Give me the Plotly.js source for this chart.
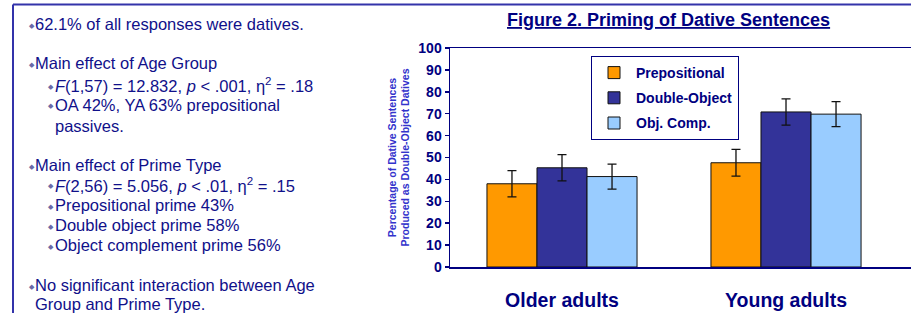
<!DOCTYPE html>
<html><head><meta charset="utf-8">
<script src="https://cdn.plot.ly/plotly-3.0.1.min.js"></script>
<style>html,body{margin:0;padding:0;background:#fff;}#chart{width:911px;height:313px;}</style>
</head><body><div id="chart"></div>
<script>
// ---- data ----
const groups = ["Older adults", "Young adults"];
const seriesNames = ["Prepositional", "Double-Object", "Obj. Comp."];
const prepositional = [38.0, 47.6];
const doubleObject = [45.3, 70.8];
const objComp = [41.3, 69.8];
const prepositionalErr = [6.0, 6.1];
const doubleObjectErr = [6.0, 6.0];
const objCompErr = [5.7, 5.7];
const yTicks = [0, 10, 20, 30, 40, 50, 60, 70, 80, 90, 100];

const noteLines = [
  {lvl: 0, bullet: true,  text: "62.1% of all responses were datives.", y: 24},
  {lvl: 0, bullet: true,  text: "Main effect of Age Group", y: 63},
  {lvl: 1, bullet: true,  text: "<i>F</i>(1,57) = 12.832, <i>p</i> &lt; .001, η<sup>2</sup> = .18", y: 85},
  {lvl: 1, bullet: true,  text: "OA 42%, YA 63% prepositional", y: 105},
  {lvl: 1, bullet: false, text: "passives.", y: 126},
  {lvl: 0, bullet: true,  text: "Main effect of Prime Type", y: 165},
  {lvl: 1, bullet: true,  text: "<i>F</i>(2,56) = 5.056, <i>p</i> &lt; .01, η<sup>2</sup> = .15", y: 185},
  {lvl: 1, bullet: true,  text: "Prepositional prime 43%", y: 205},
  {lvl: 1, bullet: true,  text: "Double object prime 58%", y: 225},
  {lvl: 1, bullet: true,  text: "Object complement prime 56%", y: 245},
  {lvl: 0, bullet: true,  text: "No significant interaction between Age", y: 285},
  {lvl: 0, bullet: false, text: "Group and Prime Type.", y: 304}
];

// ---- styling ----
const W = 911, H = 313;
const NAVY = "#000080";
const TXT = "#10108a";
const FONT = "Arial, Liberation Sans, sans-serif";
const colors = ["#FF9900", "#333399", "#99CCFF"];
const values = [prepositional, doubleObject, objComp];
const errs = [prepositionalErr, doubleObjectErr, objCompErr];

const traces = seriesNames.map((name, i) => ({
  type: "bar",
  name: name,
  x: groups,
  y: values[i],
  legendgroup: "g" + i,
  marker: {color: colors[i], line: {color: "#111", width: 1}},
  error_y: {type: "data", array: errs[i], visible: true, color: "#111", thickness: 1.3, width: 4.5},
  hoverinfo: "skip"
}));

const px = x => x / W;
const py = y => 1 - y / H;

const annotations = [];
noteLines.forEach(l => {
  const bx = l.lvl === 0 ? 28 : 47;
  const tx = l.lvl === 0 ? 35 : 55;
  if (l.bullet) {
    annotations.push({xref: "paper", yref: "paper", x: px(bx - 1), y: py(l.y + 1), xanchor: "left", yanchor: "middle",
      text: "◆", showarrow: false, font: {family: FONT, size: 7, color: "#6a6aa8"}});
  }
  annotations.push({xref: "paper", yref: "paper", x: px(tx - 2), y: py(l.y), xanchor: "left", yanchor: "middle",
    text: l.text, showarrow: false, font: {family: FONT, size: 16.5, color: TXT}});
});

annotations.push({xref: "paper", yref: "paper", x: px(668), y: py(20), xanchor: "center", yanchor: "middle",
  text: "<b><u>Figure 2. Priming of Dative Sentences</u></b>", showarrow: false,
  font: {family: FONT, size: 18, color: NAVY}});

const layout = {
  width: W, height: H,
  margin: {l: 0, r: 0, t: 0, b: 0, pad: 0},
  paper_bgcolor: "#fff", plot_bgcolor: "#fff",
  barmode: "group", bargap: 0.33, bargroupgap: 0,
  showlegend: true,
  legend: {
    x: px(591), y: py(56), xanchor: "left", yanchor: "top",
    bgcolor: "#fff", bordercolor: NAVY, borderwidth: 1,
    font: {family: FONT, size: 14, color: NAVY, weight: "bold"},
    traceorder: "grouped", tracegroupgap: 4, itemwidth: 34
  },
  xaxis: {
    domain: [px(450), 1], range: [-0.5, 1.558], type: "category",
    showline: true, linecolor: NAVY, linewidth: 1.5, mirror: true,
    ticks: "", showgrid: false, zeroline: false, ticklabelstandoff: 15,
    tickfont: {family: FONT, size: 19.5, color: NAVY, weight: "bold"}
  },
  yaxis: {
    domain: [py(267), py(48)], range: [0, 100], tickvals: yTicks,
    showline: true, linecolor: NAVY, linewidth: 1.5,
    ticks: "outside", ticklen: 4, tickcolor: NAVY, tickwidth: 1.5,
    showgrid: false, zeroline: false, automargin: false,
    tickfont: {family: FONT, size: 14, color: NAVY, weight: "bold"},
    title: {text: "Percentage of Dative Sentences<br>Produced as Double-Object Datives", standoff: 6,
      font: {family: FONT, size: 10.5, color: "#3333CC", weight: "bold"}}
  },
  shapes: [
    {type: "line", xref: "paper", yref: "paper", x0: px(13), x1: px(13), y0: py(4.5), y1: 0, line: {color: "#3333AA", width: 2}},
    {type: "line", xref: "paper", yref: "paper", x0: px(13), x1: 1, y0: py(4.5), y1: py(4.5), line: {color: "#3333AA", width: 2}}
  ],
  annotations: annotations
};

Plotly.newPlot("chart", traces, layout, {displayModeBar: false, staticPlot: true});
</script></body></html>
